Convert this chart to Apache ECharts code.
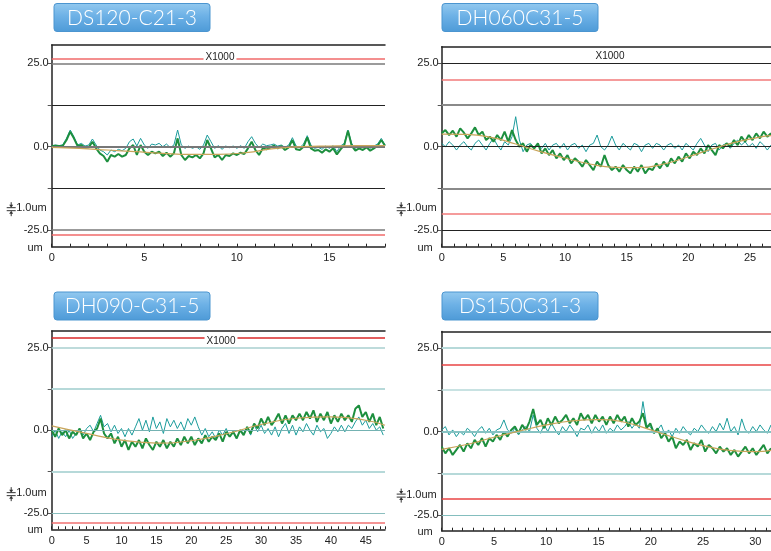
<!DOCTYPE html>
<html><head><meta charset="utf-8">
<script src="https://cdn.jsdelivr.net/npm/echarts@6/dist/echarts.min.js"></script>
<style>html,body{margin:0;padding:0;background:#fff}#c{width:771px;height:551px}</style>
</head><body><div id="c"></div>
<script>
// ---------------- DATA ----------------
const titles = ['DS120-C21-3', 'DH060C31-5', 'DH090-C31-5', 'DS150C31-3'];
const yTickLabels = [-25, 0, 25];
const yGridValues = [-25, -12.5, 0, 12.5, 25];
const xMaxes = [18, 26.7, 47.75, 31.5];
const xSteps = [0.2, 0.3, 0.5, 0.35];
const redLimits = [26.5, 20, 28, 20];
const scaleLabel = '1.0um';
const unitLabel = 'um';
const magLabel = 'X1000';

const p1Teal = [0.2,0.5,0.3,0.6,2.5,5.0,3.0,0.5,1.0,0.2,
  0.5,2.3,0.5,-1.0,-1.5,-2.5,-1.0,-1.5,-0.8,-1.2,
  -0.5,1.5,2.3,0.2,2.5,0.5,-0.5,0.8,0.5,1.0,
  0.0,0.8,-0.3,0.5,5.0,0.5,-0.5,0.2,-0.5,0.0,
  -0.8,0.5,3.5,1.5,-0.5,0.3,-0.8,0.2,-0.3,0.2,
  -0.5,0.3,-0.5,1.5,3.0,1.0,-0.3,0.8,0.3,0.5,
  0.8,0.2,0.5,-0.2,0.5,2.7,0.2,-0.3,0.8,3.3,
  0.5,-0.5,-0.2,-0.8,0.2,-0.5,0.3,-1.5,0.2,1.0,
  5.0,1.0,-0.5,0.2,-0.3,0.3,-0.5,0.2,0.8,2.5,
  0.5];
const p1Green = [0.2,0.3,0.2,0.3,2.0,4.5,2.5,0.2,0.5,-0.3,
  -0.2,1.5,-0.5,-2.0,-2.8,-4.5,-2.5,-3.0,-2.2,-3.0,
  -2.5,-0.5,0.5,-2.5,0.5,-1.5,-2.5,-1.5,-2.0,-1.5,
  -2.8,-1.8,-3.0,-2.0,2.5,-2.5,-4.0,-2.8,-3.2,-2.5,
  -3.5,-2.0,2.0,-0.5,-3.2,-2.5,-4.0,-2.5,-2.8,-2.0,
  -2.5,-1.8,-2.2,-0.5,1.5,-1.0,-2.5,-0.5,-0.8,-0.3,
  0.3,-0.5,0.2,-1.0,-0.2,2.0,-0.8,-1.0,0.0,2.8,
  -0.5,-1.2,-1.0,-1.8,-0.8,-1.5,-0.5,-2.3,-0.8,0.5,
  4.8,0.3,-1.2,-0.5,-1.0,-0.2,-1.2,-0.5,0.3,2.0,
  0.3];
const p1FitX = [0,1.5,3,4.5,6,7.5,9,10.5,12,13.5,15,16.5,18];
const p1FitY = [-0.2,-0.5,-1.0,-1.5,-2.0,-2.3,-2.3,-1.8,-0.6,0.0,0.2,0.3,0.3];

const p2Teal = [1.0,0.0,1.5,0.5,-1.0,0.5,1.5,0.0,-1.0,1.0,
  2.0,0.5,-1.0,1.0,2.5,0.5,-1.0,1.5,0.5,3.0,
  9.0,2.0,-1.5,0.5,1.0,-0.5,0.5,-0.5,1.0,-1.0,
  0.5,1.0,-0.5,1.0,-1.0,0.5,1.0,-0.5,0.5,-1.5,
  0.5,1.0,3.5,0.0,-1.0,0.5,3.2,0.5,-1.0,1.0,
  0.0,-1.0,1.0,0.5,-1.5,0.5,1.0,-0.5,1.0,0.5,
  -1.0,0.5,1.0,-0.5,0.5,-1.0,1.0,0.0,-1.0,1.0,
  2.5,0.5,-1.5,0.5,1.0,-1.0,0.5,1.0,-0.5,1.0,
  2.0,0.5,1.5,0.0,1.0,-0.5,1.5,0.5,-1.0,0.5];
const p2Green = [4.0,5.0,3.5,4.8,3.0,5.5,4.2,2.5,4.0,5.8,
  3.5,4.5,2.0,3.0,1.5,3.5,2.0,4.5,1.5,5.0,
  2.0,0.0,1.0,-1.5,0.5,-0.5,1.0,-2.0,-0.5,-2.5,
  -1.0,-3.5,-2.0,-4.0,-2.5,-5.0,-3.5,-4.5,-6.0,-4.0,
  -5.5,-7.0,-4.5,-6.0,-2.5,-5.5,-7.0,-6.0,-7.5,-5.5,
  -7.0,-8.0,-6.0,-7.5,-5.5,-8.0,-6.5,-7.0,-5.0,-6.5,
  -4.5,-6.0,-3.5,-5.0,-3.0,-4.5,-2.0,-3.5,-1.5,-2.5,
  -0.5,-2.0,0.5,-1.0,-2.5,0.5,-0.5,1.0,0.0,2.0,
  0.5,3.0,1.5,3.5,2.0,4.0,2.5,4.5,3.0,4.0];
const p2FitX = [0,2,4,6,8,10,12,14,16,18,20,22,24,26,26.7];
const p2FitY = [3.8,3.7,2.8,0.8,-1.5,-3.4,-5.2,-6.2,-6.3,-5.2,-3.0,-0.6,1.5,3.0,3.3];

const p3Teal = [-2.0,0.0,-2.5,-0.5,-2.0,0.0,-2.5,-1.0,0.5,-1.5,
  0.5,1.5,-0.5,2.0,4.5,1.0,2.0,-0.5,1.5,-1.0,
  0.5,-2.0,0.5,-1.5,1.0,3.5,0.0,3.0,-0.5,4.0,
  0.5,2.5,-1.0,3.5,1.0,3.0,0.5,2.5,0.0,3.5,
  1.5,4.0,1.0,-1.5,0.5,-2.0,-0.5,-2.5,0.0,-1.5,
  0.5,-2.0,-0.5,-2.5,0.0,-1.0,1.0,-1.5,1.5,-0.5,
  1.5,-1.0,0.5,-1.5,1.0,-2.0,0.5,2.0,-1.0,1.5,
  -1.5,1.0,-0.5,2.0,0.0,-1.5,1.5,-0.5,0.5,-2.5,
  -1.0,1.0,-0.5,1.5,-0.5,1.5,0.5,2.5,4.0,1.5,
  3.0,0.5,2.0,0.0,1.0,-1.5];
const p3Green = [0.0,-2.0,0.5,-1.5,0.0,-2.5,-0.5,-1.5,0.5,-2.5,
  -1.0,-3.0,-0.5,0.5,3.5,-1.0,-2.5,-1.0,-4.0,-2.0,
  -5.0,-3.0,-6.0,-3.5,-5.0,-3.0,-5.5,-2.5,-4.5,-6.0,
  -3.5,-5.0,-3.0,-5.5,-3.5,-5.0,-2.5,-4.5,-2.0,-4.0,
  -2.0,-4.5,-2.5,-4.0,-1.5,-3.5,-2.0,-3.0,-1.0,-3.5,
  -0.5,-2.0,-0.5,-2.5,0.0,-1.5,1.0,-1.0,2.0,0.5,
  3.5,1.5,4.0,1.5,3.0,5.0,2.0,4.5,2.0,4.5,
  3.0,5.0,3.0,5.5,3.5,6.0,2.5,5.0,3.0,5.5,
  2.0,4.5,2.5,5.0,3.0,4.5,2.5,6.5,7.5,4.0,
  5.5,2.5,5.0,1.5,4.0,0.5];
const p3FitX = [0,5,10,15,20,25,30,35,40,45,47.75];
const p3FitY = [1.3,-1.0,-3.0,-3.9,-3.2,-1.1,1.7,3.6,4.0,3.0,1.5];

const p4Teal = [0.5,1.5,-1.0,0.5,-1.5,0.0,-1.0,1.0,0.0,-1.5,
  0.5,1.5,-0.5,1.0,-1.0,0.5,1.0,3.5,0.5,-0.5,
  1.0,-1.0,0.5,1.5,0.0,5.0,1.0,-0.5,2.0,0.0,
  2.5,0.5,-1.0,1.5,0.0,2.0,0.5,-1.5,1.0,0.5,
  2.0,-0.5,1.5,0.0,2.0,-0.5,1.0,0.0,2.0,0.5,
  1.5,3.0,1.0,2.5,1.0,9.0,2.0,1.5,-0.5,0.5,
  2.0,-1.0,0.5,-1.5,1.0,-0.5,1.5,0.0,-1.0,1.0,
  0.0,2.0,0.5,-0.5,1.5,0.0,2.5,0.5,4.0,0.0,
  1.5,-1.0,3.8,0.5,-0.5,1.5,0.0,2.0,0.5,-0.5,
  2.0];
const p4Green = [-4.5,-6.5,-5.0,-7.0,-5.5,-4.0,-6.0,-3.5,-5.0,-2.5,
  -4.0,-2.0,-4.5,-2.0,-3.0,-1.0,-2.5,0.0,-1.5,0.5,
  1.5,-0.5,2.0,0.5,3.0,6.8,2.0,3.5,1.0,4.0,
  2.0,4.5,2.5,3.5,5.0,2.5,4.0,2.0,5.5,3.5,
  5.0,2.5,5.0,3.0,4.5,2.0,4.5,2.5,5.0,3.0,
  4.5,1.5,4.0,2.0,3.0,5.5,1.0,2.5,-0.5,1.0,
  -2.0,-0.5,-3.0,-1.5,-5.0,-3.0,-4.0,-2.5,-5.5,-3.5,
  -4.5,-2.5,-6.0,-4.0,-5.0,-6.5,-4.5,-6.0,-5.0,-7.0,
  -5.5,-7.5,-6.0,-4.5,-6.5,-5.0,-7.0,-5.5,-4.0,-6.5,
  -5.0];
const p4FitX = [0,2.5,5,7.5,10,12.5,15,17.5,20,22.5,25,27.5,30,31.5];
const p4FitY = [-5.3,-3.8,-1.7,0.2,2.0,3.2,3.6,2.8,0.5,-2.0,-4.2,-5.6,-6.0,-5.6];

const tealSets = [p1Teal, p2Teal, p3Teal, p4Teal];
const greenSets = [p1Green, p2Green, p3Green, p4Green];
const fitXs = [p1FitX, p2FitX, p3FitX, p4FitX];
const fitYs = [p1FitY, p2FitY, p3FitY, p4FitY];

// ---------------- LAYOUT / STYLE ----------------
const layouts = [
  {left: 51.7, top: 45,    width: 333.3, height: 201.7, ymin: -30,   ymax: 30.5, btnX: 54,  btnY: 3.5, mag: [220, 57.7]},
  {left: 441.7, top: 46.7, width: 329.3, height: 200,   ymin: -30,   ymax: 30,   btnX: 442, btnY: 3.5, mag: [610, 56.7]},
  {left: 51.7, top: 331,   width: 333.3, height: 198.3, ymin: -30,   ymax: 30,   btnX: 54,  btnY: 292, mag: [221, 341]},
  {left: 441.7, top: 331.5, width: 329.3, height: 199.2, ymin: -29.7, ymax: 30,  btnX: 442, btnY: 292, mag: null}
];
const gridStyles = [
  [['#7a7a7a',1.5],['#222',1.2],['#777',2],['#222',1.2],['#7a7a7a',1.5]],
  [['#222',1.2],['#8a8a8a',2],['#222',1.2],['#8a8a8a',2],['#222',1.2]],
  [['#8cbfbf',1.2],['#b6d9d9',2],['#74b2b2',1.2],['#b6d9d9',2],['#a8cfcf',1.5]],
  [['#84bebe',1.2],['#b6d9d9',2],['#86c2c2',2],['#b6d9d9',1.5],['#b6d9d9',2]]
];
const redStyles = [['#f06a6a','#f06a6a'],['#f27a7a','#f27a7a'],['#d82828','#f07070'],['#e84545','#e84545']];
const TEAL = '#1c9c9c', GREEN = '#1d8f3e', FIT = '#c9a45a';
const FONT = 'Liberation Sans';

const grids = [], xAxes = [], yAxes = [], series = [], graphics = [];

layouts.forEach((L, i) => {
  grids.push({left: L.left, top: L.top, width: L.width, height: L.height, containLabel: false, outerBoundsMode: 'none'});
  const xMax = xMaxes[i];
  xAxes.push({
    gridIndex: i, type: 'value', min: 0, max: xMax, interval: 5,
    axisLine: {show: true, onZero: false, lineStyle: {color: '#222', width: 1.5}},
    axisTick: {show: true, inside: true, length: 3, lineStyle: {color: '#222'}},
    minorTick: {show: true, splitNumber: 5, length: 3, lineStyle: {color: '#222'}},
    axisLabel: {color: '#222', fontSize: 11, fontFamily: FONT, margin: 6, showMaxLabel: false,
      formatter: v => (Math.abs(v % 5) < 1e-6 ? String(v) : '')},
    splitLine: {show: false}
  });
  xAxes.push({
    gridIndex: i, type: 'value', position: 'top', min: 0, max: xMax,
    axisLine: {show: true, onZero: false, lineStyle: {color: '#222', width: 1.5}},
    axisTick: {show: false}, axisLabel: {show: false}, splitLine: {show: false}
  });
  yAxes.push({
    gridIndex: i, type: 'value', min: L.ymin, max: L.ymax,
    axisLine: {show: true, onZero: false, lineStyle: {color: '#222', width: 1.5}},
    axisTick: {show: true, customValues: yGridValues, length: 4, lineStyle: {color: '#555'}},
    axisLabel: {customValues: yTickLabels, formatter: v => Number(v).toFixed(1), color: '#222', fontSize: 11, fontFamily: FONT, margin: 3},
    splitLine: {show: false}
  });
  const xb = i * 2;
  const mlData = yGridValues.map((v, k) => ({yAxis: v, lineStyle: {color: gridStyles[i][k][0], width: gridStyles[i][k][1], type: 'solid'}}));
  mlData.push({yAxis: redLimits[i], lineStyle: {color: redStyles[i][0], width: 1.5, type: 'solid'}});
  mlData.push({yAxis: -redLimits[i], lineStyle: {color: redStyles[i][1], width: 1.5, type: 'solid'}});
  series.push({
    type: 'line', xAxisIndex: xb, yAxisIndex: i, data: [[0, 0]], showSymbol: false, silent: true,
    lineStyle: {opacity: 0}, z: 1,
    markLine: {silent: true, symbol: ['none', 'none'], label: {show: false}, animation: false, data: mlData}
  });
  series.push({
    type: 'line', xAxisIndex: xb, yAxisIndex: i, z: 3, showSymbol: false, animation: false,
    data: tealSets[i].map((v, k) => [+(k * xSteps[i]).toFixed(3), v]),
    lineStyle: {color: TEAL, width: 1}, itemStyle: {color: TEAL}
  });
  series.push({
    type: 'line', xAxisIndex: xb, yAxisIndex: i, z: 4, showSymbol: false, animation: false,
    data: greenSets[i].map((v, k) => [+(k * xSteps[i]).toFixed(3), v]),
    lineStyle: {color: GREEN, width: 2}, itemStyle: {color: GREEN}
  });
  series.push({
    type: 'line', xAxisIndex: xb, yAxisIndex: i, z: 5, showSymbol: false, animation: false, smooth: 0.5,
    data: fitXs[i].map((x, k) => [x, fitYs[i][k]]),
    lineStyle: {color: FIT, width: 1.2}, itemStyle: {color: FIT}
  });

  // title button
  graphics.push({
    type: 'rect', shape: {x: L.btnX, y: L.btnY, width: 156, height: 28, r: 3}, z: 10,
    style: {fill: new echarts.graphic.LinearGradient(0, 0, 0, 1, [
      {offset: 0, color: '#93c9ef'}, {offset: 0.45, color: '#6db1e6'}, {offset: 1, color: '#4d9ad7'}]),
      stroke: '#4b95d0', lineWidth: 1}
  });
  graphics.push({
    type: 'text', x: L.btnX + 78, y: L.btnY + 14.5, z: 11,
    style: {text: titles[i], fill: '#ffffff', fontSize: 21, fontWeight: 300, fontFamily: 'Lato', align: 'center', verticalAlign: 'middle'}
  });
  // magnification label
  if (L.mag) {
    graphics.push({
      type: 'text', x: L.mag[0], y: L.mag[1], z: 12,
      style: {text: magLabel, fill: '#222', fontSize: 10, fontFamily: FONT, align: 'center', verticalAlign: 'middle',
        backgroundColor: '#fff', padding: [0, 2]}
    });
  }
  // scale label + icon
  const zeroY = L.top + L.height * (L.ymax / (L.ymax - L.ymin));
  const cy = zeroY + (i >= 2 ? 64 : 62.5);
  const cx = L.left - 40.5;
  graphics.push({type: 'group', z: 12, children: [
    {type: 'line', shape: {x1: cx - 4.5, y1: cy - 1.5, x2: cx + 4.5, y2: cy - 1.5}, style: {stroke: '#333', lineWidth: 1}},
    {type: 'line', shape: {x1: cx - 4.5, y1: cy + 1.5, x2: cx + 4.5, y2: cy + 1.5}, style: {stroke: '#333', lineWidth: 1}},
    {type: 'line', shape: {x1: cx, y1: cy - 7, x2: cx, y2: cy - 3}, style: {stroke: '#333', lineWidth: 1}},
    {type: 'polygon', shape: {points: [[cx - 2, cy - 4.5], [cx + 2, cy - 4.5], [cx, cy - 1.5]]}, style: {fill: '#333'}},
    {type: 'line', shape: {x1: cx, y1: cy + 7, x2: cx, y2: cy + 3}, style: {stroke: '#333', lineWidth: 1}},
    {type: 'polygon', shape: {points: [[cx - 2, cy + 4.5], [cx + 2, cy + 4.5], [cx, cy + 1.5]]}, style: {fill: '#333'}}
  ]});
  graphics.push({
    type: 'text', x: L.left - 35.5, y: cy - 1, z: 12,
    style: {text: scaleLabel, fill: '#222', fontSize: 11, fontFamily: FONT, align: 'left', verticalAlign: 'middle'}
  });
  graphics.push({
    type: 'text', x: L.left - 9, y: L.top + L.height + 1, z: 12,
    style: {text: unitLabel, fill: '#222', fontSize: 11, fontFamily: FONT, align: 'right', verticalAlign: 'middle'}
  });
});

const chart = echarts.init(document.getElementById('c'), null, {renderer: 'canvas'});
chart.setOption({
  animation: false,
  backgroundColor: '#fff',
  grid: grids, xAxis: xAxes, yAxis: yAxes, series: series, graphic: graphics
});
</script></body></html>
